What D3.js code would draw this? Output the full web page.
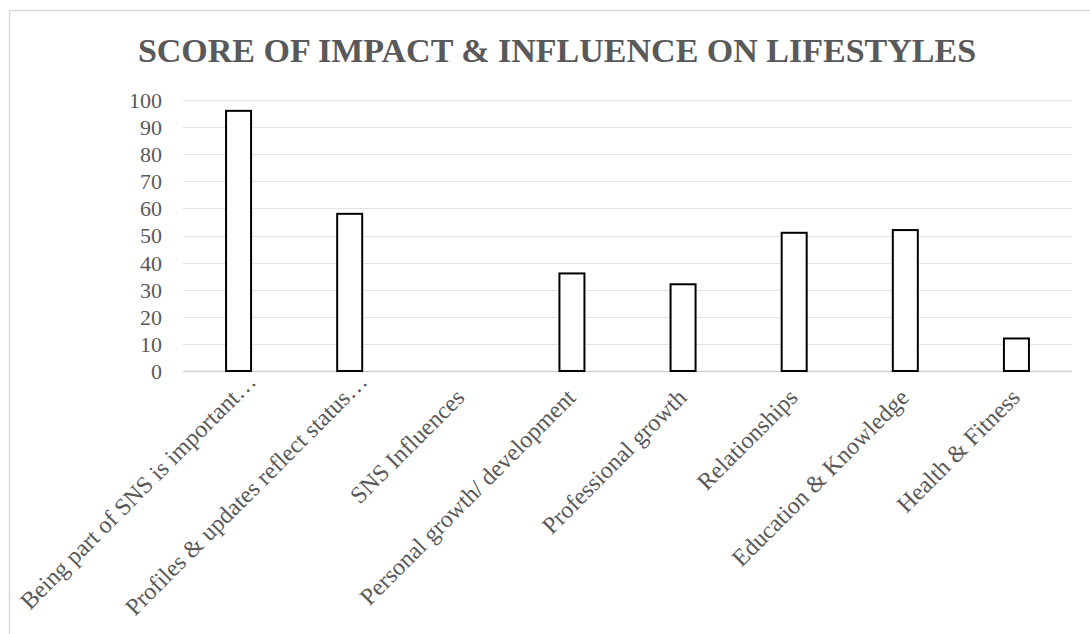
<!DOCTYPE html>
<html>
<head>
<meta charset="utf-8">
<script src="https://cdn.jsdelivr.net/npm/d3@7"></script>
<style>
  html, body { margin: 0; padding: 0; background: #fff; }
  svg { display: block; }
</style>
</head>
<body>
<svg id="chart" width="1090" height="634"></svg>
<script>
// Chart data
const title = "SCORE OF IMPACT & INFLUENCE ON LIFESTYLES";
const categories = [
  "Being part of SNS is important…",
  "Profiles & updates reflect status…",
  "SNS Influences",
  "Personal growth/ development",
  "Professional growth",
  "Relationships",
  "Education & Knowledge",
  "Health & Fitness"
];
const scores = [96, 58, 0, 36, 32, 51, 52, 12];
const yTicks = [0, 10, 20, 30, 40, 50, 60, 70, 80, 90, 100];

const svg = d3.select("#chart");
const font = "'Liberation Serif', 'Times New Roman', serif";
const textColor = "#595959";

// Outer chart frame
svg.append("rect")
  .attr("x", 9.5).attr("y", 10.5)
  .attr("width", 1200).attr("height", 800)
  .attr("fill", "none")
  .attr("stroke", "#d9d9d9")
  .attr("stroke-width", 1.5);

const plot = { left: 183, right: 1072, top: 100, bottom: 371 };

const x = d3.scaleBand()
  .domain(categories)
  .range([plot.left, plot.right])
  .paddingInner(0.775)
  .paddingOuter(0.3875);

const y = d3.scaleLinear()
  .domain([0, 100])
  .range([plot.bottom, plot.top]);

// Title
svg.append("text")
  .attr("x", 557)
  .attr("y", 62)
  .attr("text-anchor", "middle")
  .attr("font-family", font)
  .attr("font-weight", "bold")
  .attr("font-size", 34)
  .attr("fill", textColor)
  .text(title);

// Horizontal gridlines
svg.append("g")
  .selectAll("line")
  .data(yTicks)
  .join("line")
  .attr("x1", plot.left)
  .attr("x2", plot.right)
  .attr("y1", d => Math.round(y(d)) + 0.5)
  .attr("y2", d => Math.round(y(d)) + 0.5)
  .attr("stroke", d => d === 0 ? "#d0d0d0" : "#e3e3e3")
  .attr("stroke-width", d => d === 0 ? 1.5 : 1.2);

// Y axis labels
const yAxis = d3.axisLeft(y).tickValues(yTicks).tickSize(0).tickPadding(0);
const yg = svg.append("g")
  .attr("transform", `translate(${plot.left - 21},0)`)
  .call(yAxis);
yg.select(".domain").remove();
yg.selectAll("text")
  .attr("font-family", font)
  .attr("font-size", 22)
  .attr("fill", textColor)
  .attr("dy", "0.34em");

// Bars
svg.append("g")
  .selectAll("rect")
  .data(categories.map((c, i) => ({ c, v: scores[i] })).filter(d => d.v > 0))
  .join("rect")
  .attr("x", d => x(d.c))
  .attr("y", d => y(d.v))
  .attr("width", x.bandwidth())
  .attr("height", d => y(0) - y(d.v))
  .attr("fill", "#ffffff")
  .attr("stroke", "#000000")
  .attr("stroke-width", 2);

// Category labels, rotated; truncated labels sit a little further along
const xAxis = d3.axisBottom(x).tickSize(0).tickPadding(0);
const xg = svg.append("g")
  .attr("transform", `translate(0,${plot.bottom})`)
  .call(xAxis);
xg.select(".domain").remove();
xg.selectAll("text")
  .attr("font-family", font)
  .attr("font-size", 24)
  .attr("fill", textColor)
  .attr("text-anchor", "end")
  .attr("dy", "0")
  .attr("transform", d => d.endsWith("…")
    ? "translate(19,12) rotate(-45)"
    : "translate(5,28) rotate(-45)");
</script>
</body>
</html>
